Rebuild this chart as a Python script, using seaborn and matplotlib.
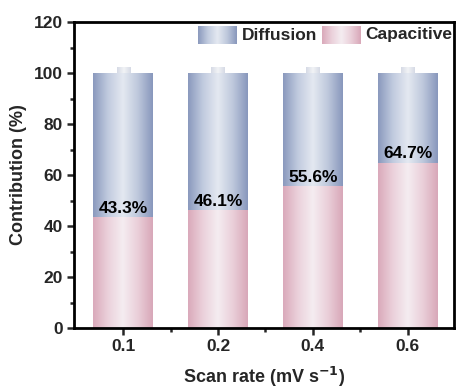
import numpy as np
import pandas as pd
import matplotlib
matplotlib.use("Agg")
import matplotlib.pyplot as plt
import seaborn as sns
from matplotlib.colors import LinearSegmentedColormap
from matplotlib.ticker import MultipleLocator

# ---- data ----
scan_rates = ["0.1", "0.2", "0.4", "0.6"]
capacitive = [43.3, 46.1, 55.6, 64.7]
diffusion = [100 - c for c in capacitive]
total = [c + d for c, d in zip(capacitive, diffusion)]
labels = ["43.3%", "46.1%", "55.6%", "64.7%"]

sns.set_theme(style="ticks")
plt.rcParams["font.family"] = ["Liberation Sans", "DejaVu Sans"]
plt.rcParams["font.weight"] = "bold"

df = pd.DataFrame({"rate": scan_rates, "cap": capacitive, "total": total})

fig = plt.figure(figsize=(4.57, 3.92), dpi=100)
ax = fig.add_axes([74/457, 1 - 328/392, (454-74)/457, (328-22)/392])

sns.barplot(data=df, x="rate", y="total", ax=ax, width=0.63, color="#9aa8c8")
n_diff = len(ax.patches)
sns.barplot(data=df, x="rate", y="cap", ax=ax, width=0.63, color="#e0b6c4")

blue_cmap = LinearSegmentedColormap.from_list(
    "blue", ["#8a99bd", "#c1cbdf", "#e4e9f1", "#bec8dc", "#8897bc"])
pink_cmap = LinearSegmentedColormap.from_list(
    "pink", ["#daa9ba", "#ebd1db", "#f5edf1", "#eacfd9", "#d8a7b8"])
cap_cmap = LinearSegmentedColormap.from_list(
    "cap", ["#d5dae5", "#f2f3f6", "#d5dae5"])

grad = np.linspace(0, 1, 256).reshape(1, -1)
for i, p in enumerate(ax.patches):
    x0, y0 = p.get_x(), p.get_y()
    w, h = p.get_width(), p.get_height()
    cmap = blue_cmap if i < n_diff else pink_cmap
    p.set_facecolor("none")
    p.set_edgecolor("none")
    ax.imshow(grad, cmap=cmap, aspect="auto", extent=[x0, x0 + w, y0, y0 + h],
              zorder=1 if i < n_diff else 2, interpolation="bicubic")
    if i < n_diff:
        cw = w * 0.22
        cx = x0 + w / 2 - cw / 2
        ax.imshow(grad, cmap=cap_cmap, aspect="auto",
                  extent=[cx, cx + cw, y0 + h, y0 + h + 2.2], zorder=1)

for i, (c, lab) in enumerate(zip(capacitive, labels)):
    ax.text(i, c + 0.6, lab, ha="center", va="bottom", fontsize=12.5,
            fontweight="bold", color="black", zorder=5)

ax.set_xlim(-0.52, 3.49)
ax.set_ylim(0, 120)
ax.yaxis.set_major_locator(MultipleLocator(20))
ax.yaxis.set_minor_locator(MultipleLocator(10))
ax.set_xticks(range(4))
ax.set_xticks([0.5, 1.5, 2.5], minor=True)
ax.set_xticklabels(scan_rates)
ax.tick_params(axis="both", which="major", direction="out", length=5, width=1.8,
               labelsize=12.5, pad=3)
ax.tick_params(axis="both", which="minor", direction="out", length=3, width=1.8)
for lbl in ax.get_xticklabels() + ax.get_yticklabels():
    lbl.set_fontweight("bold")
for s in ax.spines.values():
    s.set_visible(True)
    s.set_linewidth(2.0)
    s.set_color("black")

ax.set_xlabel("Scan rate (mV s$^{\\mathbf{-1}}$)", fontsize=13, fontweight="bold", labelpad=8)
ax.set_ylabel("Contribution (%)", fontsize=13, fontweight="bold", labelpad=5)

# legend with gradient patches (drawn in axes coordinates)
def grad_patch(x0, y0, w, h, cmap):
    ax.imshow(grad, cmap=cmap, aspect="auto", extent=[x0, x0 + w, y0, y0 + h],
              transform=ax.transAxes, zorder=6, interpolation="bicubic")

lx0 = (198 - 74) / 380
lw = 39 / 380
ly0 = 1 - (44 - 22) / 306
lh = 18 / 306
grad_patch(lx0, ly0, lw, lh, blue_cmap)
ax.text(lx0 + lw + 0.012, ly0 + lh / 2, "Diffusion", transform=ax.transAxes,
        ha="left", va="center", fontsize=12.5, fontweight="bold", zorder=7)
lx1 = (322 - 74) / 380
grad_patch(lx1, ly0, lw, lh, pink_cmap)
ax.text(lx1 + lw + 0.012, ly0 + lh / 2, "Capacitive", transform=ax.transAxes,
        ha="left", va="center", fontsize=12.5, fontweight="bold", zorder=7)

ax.set_xlim(-0.52, 3.49)
ax.set_ylim(0, 120)

fig.savefig("out.png", dpi=100)
